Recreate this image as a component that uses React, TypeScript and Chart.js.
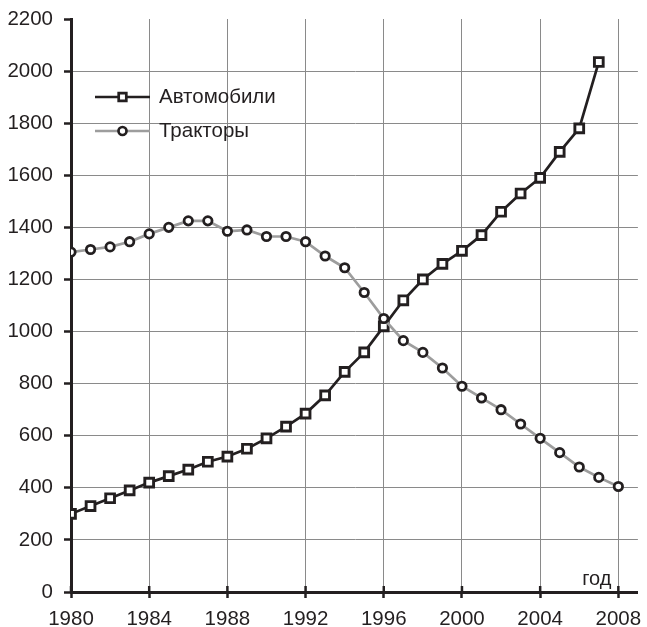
import React, { useEffect, useRef } from 'react';
import { Chart, registerables } from 'chart.js';

Chart.register(...registerables);

// ---- data ----
const carYears = [1980, 1981, 1982, 1983, 1984, 1985, 1986, 1987, 1988, 1989, 1990, 1991, 1992, 1993, 1994, 1995, 1996, 1997, 1998, 1999, 2000, 2001, 2002, 2003, 2004, 2005, 2006, 2007];
const carValues = [300, 330, 360, 390, 420, 445, 470, 500, 520, 550, 590, 635, 685, 755, 845, 920, 1020, 1120, 1200, 1260, 1310, 1370, 1460, 1530, 1590, 1690, 1780, 2035];
const tractorYears = [1980, 1981, 1982, 1983, 1984, 1985, 1986, 1987, 1988, 1989, 1990, 1991, 1992, 1993, 1994, 1995, 1996, 1997, 1998, 1999, 2000, 2001, 2002, 2003, 2004, 2005, 2006, 2007, 2008];
const tractorValues = [1305, 1315, 1325, 1345, 1375, 1400, 1425, 1425, 1385, 1390, 1365, 1365, 1345, 1290, 1245, 1150, 1050, 965, 920, 860, 790, 745, 700, 645, 590, 535, 480, 440, 405];
const xTicks = [1980, 1984, 1988, 1992, 1996, 2000, 2004, 2008];
const yTicks = [0, 200, 400, 600, 800, 1000, 1200, 1400, 1600, 1800, 2000, 2200];
const seriesNames = ['Автомобили', 'Тракторы'];
const xAxisTitle = 'год';

const FONT = 'Arial, "Liberation Sans", sans-serif';
const DARK = '#231f20';
const GRID = '#8a8a8a';
const TRACTOR_LINE = '#9d9d9d';

const overlayPlugin = {
  id: 'overlay',
  afterDraw(chart: any) {
    const ctx = chart.ctx;
    const xs = chart.scales.x;
    const area = chart.chartArea;
    const axisY = area.bottom;
    ctx.save();
    // upper half of crossing x ticks
    ctx.strokeStyle = DARK;
    ctx.lineWidth = 2.5;
    xTicks.forEach((v) => {
      const px = xs.getPixelForValue(v);
      ctx.beginPath();
      ctx.moveTo(px, axisY - 6);
      ctx.lineTo(px, axisY);
      ctx.stroke();
    });
    // axis title
    ctx.fillStyle = DARK;
    ctx.font = `20px ${FONT}`;
    ctx.textAlign = 'right';
    ctx.textBaseline = 'alphabetic';
    ctx.fillText(xAxisTitle, xs.getPixelForValue(2008) - 7, axisY - 7);

    // legend
    const ds = chart.data.datasets;
    const rows = [
      { d: ds[1], name: seriesNames[0], y: area.top + 78 },
      { d: ds[0], name: seriesNames[1], y: area.top + 112 },
    ];
    const x0 = area.left + 24;
    const x1 = area.left + 79;
    const xm = (x0 + x1) / 2;
    rows.forEach((r) => {
      ctx.strokeStyle = r.d.borderColor;
      ctx.lineWidth = 2.7;
      ctx.beginPath();
      ctx.moveTo(x0, r.y);
      ctx.lineTo(x1, r.y);
      ctx.stroke();
      ctx.fillStyle = '#ffffff';
      ctx.strokeStyle = DARK;
      ctx.lineWidth = 2.7;
      ctx.beginPath();
      if (r.d.pointStyle === 'rect') {
        ctx.rect(xm - 3.8, r.y - 3.8, 7.6, 7.6);
      } else {
        ctx.arc(xm, r.y, 4, 0, Math.PI * 2);
      }
      ctx.fill();
      ctx.stroke();
      ctx.fillStyle = DARK;
      ctx.font = `20.5px ${FONT}`;
      ctx.textAlign = 'left';
      ctx.textBaseline = 'middle';
      ctx.fillText(r.name, area.left + 88, r.y);
    });
    ctx.restore();
  },
};

export default function App() {
  const canvasRef = useRef<HTMLCanvasElement | null>(null);

  useEffect(() => {
    document.body.style.margin = '0';
    const canvas = canvasRef.current;
    if (!canvas) return;
    const chart = new Chart(canvas, {
      type: 'line',
      data: {
        datasets: [
          {
            label: seriesNames[1],
            data: tractorYears.map((yr, i) => ({ x: yr, y: tractorValues[i] })),
            borderColor: TRACTOR_LINE,
            borderWidth: 2.7,
            pointStyle: 'circle',
            pointRadius: 4.2,
            pointBorderWidth: 2.8,
            pointBorderColor: DARK,
            pointBackgroundColor: '#ffffff',
            tension: 0,
          },
          {
            label: seriesNames[0],
            data: carYears.map((yr, i) => ({ x: yr, y: carValues[i] })),
            borderColor: DARK,
            borderWidth: 2.7,
            pointStyle: 'rect',
            pointRadius: 6.2,
            pointBorderWidth: 2.9,
            pointBorderColor: DARK,
            pointBackgroundColor: '#ffffff',
            tension: 0,
          },
        ],
      },
      options: {
        responsive: false,
        animation: false,
        layout: { padding: { top: 19, right: 3, bottom: 0, left: 0 } },
        plugins: {
          legend: { display: false },
          tooltip: { enabled: false },
        },
        scales: {
          x: {
            type: 'linear',
            min: 1980,
            max: 2009,
            afterBuildTicks: (scale: any) => {
              scale.ticks = xTicks.map((v) => ({ value: v }));
            },
            afterFit: (scale: any) => {
              scale.height = 35;
              scale.paddingLeft = 0;
              scale.paddingRight = 0;
            },
            ticks: {
              autoSkip: false,
              maxRotation: 0,
              padding: 9,
              color: DARK,
              font: { family: FONT, size: 20.5 },
              callback: (v: any) => String(v),
            },
            grid: {
              color: GRID,
              lineWidth: 1,
              tickLength: 6,
              tickColor: DARK,
              tickWidth: 2.5,
            },
            border: { color: DARK, width: 3 },
          },
          y: {
            type: 'linear',
            min: 0,
            max: 2200,
            afterBuildTicks: (scale: any) => {
              scale.ticks = yTicks.map((v) => ({ value: v }));
            },
            afterFit: (scale: any) => {
              scale.width = 71;
              scale.paddingTop = 0;
              scale.paddingBottom = 0;
            },
            ticks: {
              padding: 11,
              color: DARK,
              font: { family: FONT, size: 20.5 },
              callback: (v: any) => String(v),
            },
            grid: {
              color: (c: any) => (c.tick && c.tick.value === 2200 ? 'rgba(0,0,0,0)' : GRID),
              lineWidth: 1,
              tickLength: 7,
              tickColor: DARK,
              tickWidth: 2.5,
            },
            border: { color: DARK, width: 3 },
          },
        },
      },
      plugins: [overlayPlugin],
    });
    return () => chart.destroy();
  }, []);

  return (
    <div style={{ width: 647, height: 627 }}>
      <canvas ref={canvasRef} width={647} height={627} style={{ display: 'block' }} />
    </div>
  );
}
